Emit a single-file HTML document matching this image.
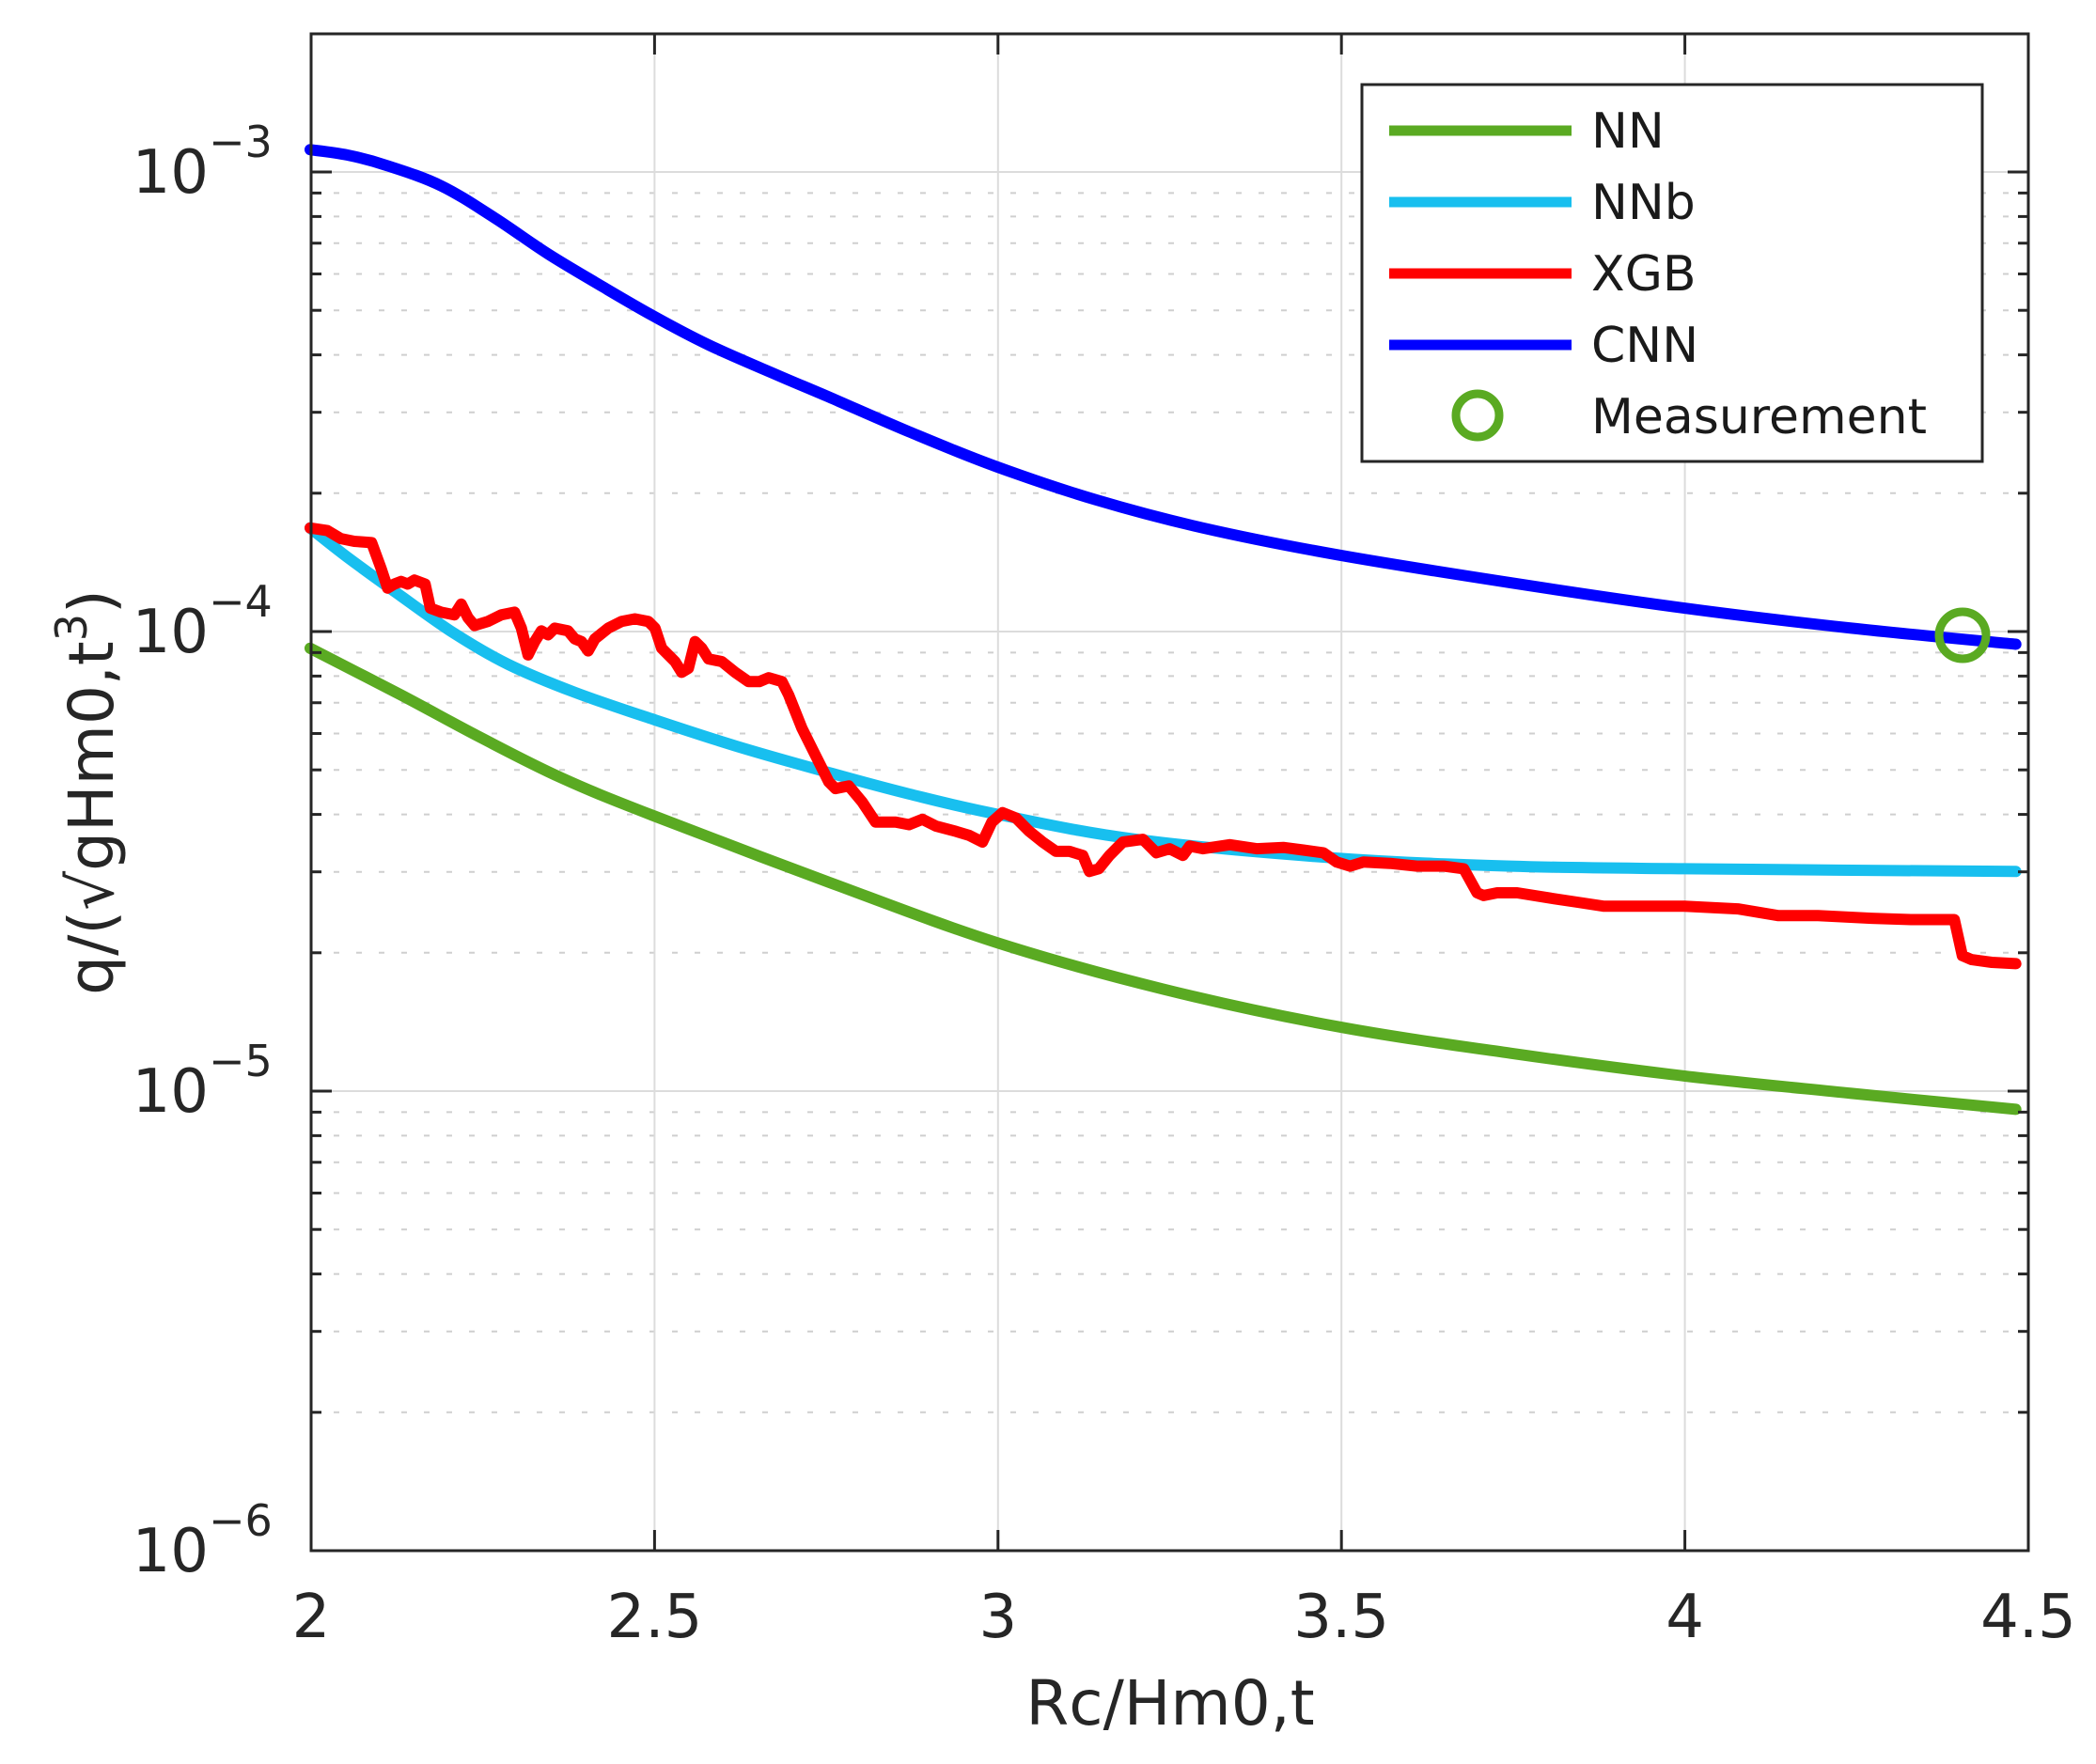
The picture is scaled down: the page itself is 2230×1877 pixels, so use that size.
<!DOCTYPE html>
<html><head><meta charset="utf-8"><style>
html,body{margin:0;padding:0;background:#fff;}
svg{display:block;font-family:"DejaVu Sans","Liberation Sans",sans-serif;}
</style></head><body>
<svg id="s" width="2230" height="1877" viewBox="0 0 2230 1877" xmlns="http://www.w3.org/2000/svg">
<rect width="2230" height="1877" fill="#fff"/>
<g id="grid"></g>
<g id="series" fill="none" stroke-linejoin="round" stroke-linecap="round"></g>
<rect x="331" y="36" width="1827" height="1614" fill="none" stroke="#262626" stroke-width="3"/>
<g id="ticks" stroke="#262626" stroke-width="3"></g>
<g id="labels" fill="#262626" font-size="64"></g>
<text x="1245" y="1835" font-size="66" fill="#262626" text-anchor="middle">Rc/Hm0,t</text>
<text transform="translate(120,843) rotate(-90)" font-size="66" fill="#262626" text-anchor="middle">q/(√gHm0,t<tspan dy="-28" font-size="46">3</tspan><tspan dy="28">)</tspan></text>
<g>
<rect x="1449" y="90" width="660" height="401" fill="#fff" stroke="#262626" stroke-width="3"/>
<line x1="1478" y1="139" x2="1672" y2="139" stroke="#5aaa22" stroke-width="11"/>
<line x1="1478" y1="215" x2="1672" y2="215" stroke="#18bfef" stroke-width="11"/>
<line x1="1478" y1="291" x2="1672" y2="291" stroke="#ff0000" stroke-width="11"/>
<line x1="1478" y1="367" x2="1672" y2="367" stroke="#0000ff" stroke-width="11"/>
<circle cx="1572" cy="442" r="23" fill="none" stroke="#5aaa22" stroke-width="9"/>
<g font-size="52" fill="#1a1a1a">
<text x="1693" y="157">NN</text>
<text x="1693" y="233">NNb</text>
<text x="1693" y="309">XGB</text>
<text x="1693" y="385">CNN</text>
<text x="1693" y="461">Measurement</text>
</g>
</g>
</svg>
<script>
var L=331,R=2158,T=36,B=1650,D=489;
function X(x){return L+(x-2)*(R-L)/2.5;}
function Y(l){return B-(l+6)*D;}
var ns="http://www.w3.org/2000/svg";
function el(p,t,a){var e=document.createElementNS(ns,t);for(var k in a)e.setAttribute(k,a[k]);p.appendChild(e);return e;}
var g=document.getElementById('grid'),tk=document.getElementById('ticks'),lb=document.getElementById('labels');
for(var d=-6;d<=-3;d++){for(var m=1;m<=9;m++){var l=d+Math.log10(m);var y=Y(l);if(y<T||y>B)continue;
 if(m==1){el(g,'line',{x1:L,x2:R,y1:y,y2:y,stroke:'#dcdcdc','stroke-width':2});
  el(tk,'line',{x1:L,x2:L+22,y1:y,y2:y});el(tk,'line',{x1:R-22,x2:R,y1:y,y2:y});}
 else{el(g,'line',{x1:L,x2:R,y1:y,y2:y,stroke:'#cfcfcf','stroke-width':2,'stroke-dasharray':'6 18'});
  el(tk,'line',{x1:L,x2:L+11,y1:y,y2:y});el(tk,'line',{x1:R-11,x2:R,y1:y,y2:y});}}
 var t=el(lb,'text',{x:222,y:Y(d)+22,'text-anchor':'end'});t.textContent='10';
 var s=el(lb,'text',{x:222,y:Y(d)-16,'font-size':'46'});s.textContent='\u2212'+(-d);}
[2,2.5,3,3.5,4,4.5].forEach(function(v){var x=X(v);
 if(v>2&&v<4.5){el(g,'line',{x1:x,x2:x,y1:T,y2:B,stroke:'#dcdcdc','stroke-width':2});
  el(tk,'line',{x1:x,x2:x,y1:B-22,y2:B});el(tk,'line',{x1:x,x2:x,y1:T,y2:T+22});}
 var t=el(lb,'text',{x:x,y:1742,'text-anchor':'middle'});t.textContent=String(v);});
var sc=1.4222;
function smoothD(pts){
 var d='M'+(pts[0][0]*sc)+','+(pts[0][1]*sc);
 for(var i=0;i<pts.length-1;i++){var p0=pts[Math.max(i-1,0)],p1=pts[i],p2=pts[i+1],p3=pts[Math.min(i+2,pts.length-1)];
  var c1=[p1[0]+(p2[0]-p0[0])/6,p1[1]+(p2[1]-p0[1])/6],c2=[p2[0]-(p3[0]-p1[0])/6,p2[1]-(p3[1]-p1[1])/6];
  d+='C'+[c1[0]*sc,c1[1]*sc,c2[0]*sc,c2[1]*sc,p2[0]*sc,p2[1]*sc].map(function(v){return v.toFixed(1)}).join(',');}
 return d;}
function add(d,col){el(document.getElementById('series'),'path',{d:d,stroke:col,'stroke-width':12});}
add(smoothD([[232,485],[300,520],[360,552],[420,582],[488,610],[620,660],[745,705],[870,740],[1000,768],[1130,788],[1260,805],[1385,818],[1508,830]]),'#5aaa22');
add(smoothD([[232,395],[260,417],[300,446],[340,474],[380,497],[430,518],[488,538],[550,558],[620,578],[680,594],[745,609],[850,628],[1000,642],[1130,648],[1260,650],[1508,652]]),'#18bfef');
var xp=[[232,395],[245,397],[255,403],[265,405],[278,406],[285,425],[290,440],[295,437],[300,435],[305,437],[310,434],[318,437],[322,455],[330,458],[340,460],[345,452],[350,462],[355,468],[365,465],[375,460],[385,458],[390,470],[395,490],[400,480],[405,472],[410,475],[415,470],[425,472],[430,478],[435,480],[440,487],[445,478],[455,470],[465,465],[475,463],[485,465],[490,470],[495,485],[505,495],[510,503],[515,500],[520,480],[525,485],[530,493],[540,495],[550,503],[560,510],[568,510],[575,507],[585,510],[590,520],[600,545],[610,565],[620,585],[625,590],[635,588],[645,600],[655,615],[670,615],[680,617],[690,613],[700,618],[715,622],[725,625],[735,630],[742,615],[750,608],[760,612],[770,622],[780,630],[790,637],[800,637],[810,640],[815,652],[822,650],[830,640],[840,630],[855,628],[865,638],[875,635],[885,640],[890,633],[900,635],[920,632],[940,635],[960,634],[975,636],[990,638],[1000,645],[1010,648],[1020,645],[1040,646],[1060,648],[1080,648],[1095,650],[1105,668],[1110,670],[1120,668],[1135,668],[1160,672],[1180,675],[1200,678],[1220,678],[1260,678],[1300,680],[1330,685],[1360,685],[1400,687],[1430,688],[1462,688],[1468,715],[1475,718],[1490,720],[1508,721]];
var dd='';xp.forEach(function(p,i){dd+=(i?'L':'M')+(p[0]*sc).toFixed(1)+','+(p[1]*sc).toFixed(1);});
add(dd,'#ff0000');
add(smoothD([[232,112],[260,116],[290,124],[330,139],[370,163],[410,190],[450,214],[488,236],[530,258],[580,280],[620,297],[680,323],[745,349],[820,374],[900,395],[1000,415],[1130,436],[1260,455],[1385,470],[1508,482]]),'#0000ff');
el(document.getElementById('series'),'circle',{cx:2088,cy:676,r:25,stroke:'#5aaa22','stroke-width':9});
</script>
</body></html>
